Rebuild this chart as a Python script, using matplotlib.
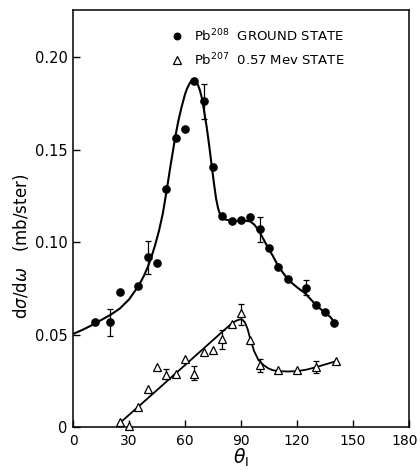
import numpy as np
import matplotlib
matplotlib.use("Agg")
import matplotlib.pyplot as plt
import matplotlib.transforms as mtransforms

# Pb208 ground state (filled circles)
gs_theta = [12, 20, 25, 35, 40, 45, 50, 55, 60, 65, 70, 75, 80, 85, 90, 95, 100, 105, 110, 115, 125, 130, 135, 140]
gs_xs = [0.0566, 0.0568, 0.0728, 0.0760, 0.0920, 0.0885, 0.1286, 0.1564, 0.1610, 0.1870, 0.1760, 0.1407,
         0.1140, 0.1115, 0.1120, 0.1133, 0.1068, 0.0970, 0.0863, 0.0798, 0.0753, 0.0661, 0.0620, 0.0560]

# error bars on the ground state (theta, low, high)
gs_err_theta = [20, 40, 70, 100, 125]
gs_err_lo = [0.0492, 0.0827, 0.1663, 0.0998, 0.0712]
gs_err_hi = [0.0636, 0.1007, 0.1854, 0.1137, 0.0795]

# Pb207 0.57 MeV state (open triangles)
ex_theta = [25, 30, 35, 40, 45, 50, 55, 60, 65, 70, 75, 80, 85, 90, 95, 100, 110, 120, 130, 141]
ex_xs = [0.0029, 0.0003, 0.0106, 0.0204, 0.0322, 0.0279, 0.0285, 0.0366, 0.0287, 0.0404, 0.0414, 0.0474,
         0.0558, 0.0616, 0.0470, 0.0337, 0.0308, 0.0308, 0.0326, 0.0358]

ex_err_theta = [50, 65, 80, 90, 100, 130]
ex_err_lo = [0.0262, 0.0254, 0.0420, 0.0551, 0.0299, 0.0290]
ex_err_hi = [0.0314, 0.0331, 0.0522, 0.0665, 0.0366, 0.0358]

# hand-drawn curves
gs_curve_theta = [0, 5, 10, 15, 20, 25, 30, 35, 38, 40, 42, 44, 46, 48, 50, 52, 54.6, 56.4, 58, 60, 61,
                  62, 63, 64, 64.5, 65, 66, 67, 68, 68.9, 70, 71.6, 73, 74.3, 75.5, 76.6, 77.7, 78.7,
                  80, 81.5, 83.7, 88, 92, 94.8, 97, 99.3, 102, 104.6, 107, 109.1, 112, 115.3, 120,
                  124.3, 129.6, 134, 137.7, 140]
gs_curve_xs = [0.0503, 0.0525, 0.0550, 0.0578, 0.0606, 0.0640, 0.0690, 0.0762, 0.0818, 0.0865, 0.0920,
               0.0985, 0.1060, 0.1150, 0.1270, 0.1400, 0.1560, 0.1655, 0.1725, 0.1800, 0.1828,
               0.1850, 0.1866, 0.1876, 0.1878, 0.1876, 0.1866, 0.1847, 0.1818, 0.1782, 0.1720,
               0.1620, 0.1515, 0.1410, 0.1315, 0.1235, 0.1182, 0.1150, 0.1130, 0.1122, 0.1117,
               0.1114, 0.1115, 0.1112, 0.1095, 0.1065, 0.1015, 0.0966, 0.0925, 0.0885, 0.0840,
               0.0795, 0.0755, 0.0723, 0.0665, 0.0625, 0.0596, 0.0566]

ex_curve_theta = [25.2, 40, 55, 70, 80.5, 85, 87.5, 89.5, 91, 92.1, 93.5, 94.8, 97, 99.3, 102, 104.6,
                  107, 110, 115, 120, 125, 130, 135, 141]
ex_curve_xs = [0.0023, 0.0155, 0.0290, 0.0425, 0.0520, 0.0560, 0.0575, 0.0582, 0.0578, 0.0564, 0.0530,
               0.0480, 0.0410, 0.0362, 0.0335, 0.0317, 0.0307, 0.0302, 0.0300, 0.0302, 0.0310, 0.0323,
               0.0338, 0.0356]

xticks = [0, 30, 60, 90, 120, 150, 180]
yticks = [0, 0.05, 0.10, 0.15, 0.20]
ytick_labels = ["0", "0.05", "0.10", "0.15", "0.20"]

plt.rcParams['font.family'] = ['DejaVu Sans']
plt.rcParams['mathtext.fontset'] = 'dejavusans'

fig = plt.figure(figsize=(4.2, 4.7), dpi=100)
ax = fig.add_axes([0.174, 0.0915, 0.8, 0.8875])

ax.plot(gs_curve_theta, gs_curve_xs, color='black', lw=1.5, zorder=2)
ax.plot(ex_curve_theta, ex_curve_xs, color='black', lw=1.3, zorder=2)

def err_bars(t, lo, hi):
    t = np.array(t)
    lo = np.array(lo)
    hi = np.array(hi)
    mid = (lo + hi) / 2
    ax.errorbar(t, mid, yerr=(hi - lo) / 2, fmt='none', ecolor='black', elinewidth=0.9,
                capsize=2, capthick=0.9, zorder=3)

err_bars(gs_err_theta, gs_err_lo, gs_err_hi)
err_bars(ex_err_theta, ex_err_lo, ex_err_hi)

h1, = ax.plot(gs_theta, gs_xs, 'o', color='black', ms=5.2, ls='none', zorder=4, clip_on=False)
h2, = ax.plot(ex_theta, ex_xs, '^', mfc='white', mec='black', mew=0.9, ms=6, ls='none', zorder=4,
              clip_on=False)

ax.legend([h1, h2], ["Pb$^{208}$  GROUND STATE", "Pb$^{207}$  0.57 Mev STATE"],
          loc='upper left', bbox_to_anchor=(0.29, 0.958), frameon=False, fontsize=9.5,
          handlelength=1.0, handletextpad=0.8, borderpad=0, borderaxespad=0, labelspacing=0.55,
          markerscale=0.9)

ax.set_xlim(0, 180)
ax.set_ylim(0, 0.2255)
ax.set_xticks(xticks)
ax.set_xticklabels([str(v) for v in xticks])
ax.set_yticks(yticks)
ax.set_yticklabels(ytick_labels)
ax.tick_params(direction='in', length=5, width=1, labelsize=10.5, top=False, right=False)
ax.tick_params(axis='x', pad=5, labelsize=10)
ax.tick_params(axis='y', pad=4)
for s in ax.spines.values():
    s.set_linewidth(1.1)

# last x tick label sits at the figure edge, nudge it a little to the left
last = ax.get_xticklabels()[-1]
last.set_transform(last.get_transform() + mtransforms.ScaledTranslation(-4 / 100, 0, fig.dpi_scale_trans))

ax.set_ylabel(r"d$\sigma$/d$\omega$   (mb/ster)", fontsize=12)
ax.yaxis.set_label_coords(-0.125, 0.434)
ax.set_xlabel(r"$\theta_{\rm I}$", fontsize=13.5, labelpad=-1)

fig.savefig("out.png", dpi=100)
